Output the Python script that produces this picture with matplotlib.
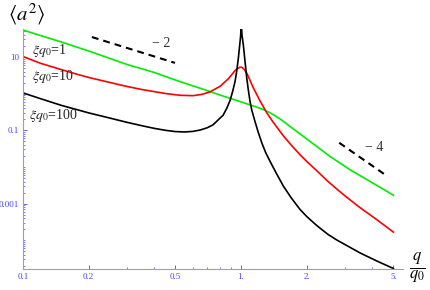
import matplotlib
matplotlib.use("Agg")
import matplotlib.pyplot as plt
from matplotlib.ticker import FixedLocator, NullFormatter

# --- data (q/q0, <a^2>) ---
# xi q0 = 1
q_green = [0.1, 0.15, 0.2, 0.3, 0.4, 0.525, 0.6, 0.7, 0.8, 0.9, 1.0, 1.0997, 1.2, 1.29, 1.358, 1.5,
           1.679, 2.073, 2.559, 3.16, 3.9, 5.0]
a2_green = [54.3, 25.6, 14.6, 6.25, 3.78, 2.13, 1.64, 1.21, 0.92, 0.733, 0.597, 0.494, 0.415, 0.35,
            0.30, 0.211, 0.127, 0.0496, 0.0194, 0.0084, 0.00405, 0.0017]

# xi q0 = 10
q_red = [0.1, 0.12, 0.15, 0.173, 0.2, 0.25, 0.3, 0.35, 0.4, 0.45, 0.525, 0.602, 0.66, 0.721, 0.801,
         0.872, 0.91, 0.9386, 0.965, 0.989, 1.007, 1.03, 1.062, 1.09, 1.12, 1.139, 1.222, 1.312, 1.4,
         1.563, 1.7, 1.865, 2.0, 2.223, 2.5, 2.748, 3.0, 3.515, 4.2, 5.0]
a2_red = [10.3, 6.76, 4.52, 3.51, 2.77, 2.02, 1.57, 1.30, 1.135, 1.01, 0.902, 0.881, 0.955, 1.12, 1.585,
          2.51, 3.39, 4.27, 4.90, 5.25, 5.25, 4.73, 3.63, 2.60, 1.79, 1.43, 0.635, 0.30, 0.17,
          0.0708, 0.0394, 0.0215, 0.01425, 0.00794, 0.00407, 0.00251, 0.00162, 7.76e-4, 3.63e-4,
          1.67e-4]

# xi q0 = 100
q_black = [0.1, 0.12, 0.15, 0.2, 0.25, 0.3, 0.35, 0.4, 0.45, 0.5, 0.55, 0.6, 0.65, 0.7, 0.744, 0.8,
           0.827, 0.86, 0.89, 0.915, 0.9386, 0.955, 0.972, 0.985, 0.995, 1.003, 1.01, 1.0246, 1.04,
           1.062, 1.08, 1.0997, 1.12, 1.159, 1.2, 1.25, 1.3, 1.358, 1.45, 1.563, 1.7, 1.865, 2.0,
           2.223, 2.5, 2.748, 3.0, 3.515, 4.2, 5.0]
a2_black = [1.05, 0.733, 0.479, 0.299, 0.216, 0.165, 0.134, 0.113, 0.1, 0.0923, 0.0902, 0.0933, 0.102,
            0.1175, 0.141, 0.214, 0.257, 0.398, 0.646, 1.15, 2.14, 4.07, 9.33, 20.0, 36.3, 75.0, 39.8,
            21.2, 8.83, 2.69, 1.26, 0.608, 0.355, 0.173, 0.0871, 0.0427, 0.024, 0.0143, 0.00681,
            0.00302, 0.00143, 6.92e-4, 4.47e-4, 2.54e-4, 1.46e-4, 1.02e-4, 7.64e-5, 4.52e-5, 2.72e-5,
            1.7e-5]

labels = [r"$\xi q_0$=1", r"$\xi q_0$=10", r"$\xi q_0$=100"]
label_q = [0.11, 0.11, 0.106]
label_a2 = [14.6, 2.85, 0.26]

# slope guides
slope2_q = [0.207, 0.498]
slope2_a2 = [35.0, 6.9]
slope4_q = [2.82, 4.72]
slope4_a2 = [0.0457, 0.00543]
slope_text = ["\u2212 2", "\u2212 4"]
slope_text_q = [0.43, 4.07]
slope_text_a2 = [24.0, 0.0334]

x_major = [0.1, 0.2, 0.5, 1.0, 2.0, 5.0]
x_major_labels = ["0.1", "0.2", "0.5", "1.", "2.", "5."]
x_minor = [0.3, 0.4, 0.6, 0.7, 0.8, 0.9, 3.0, 4.0]
y_major = [10.0, 0.1, 0.001]
y_major_labels = ["10", "0.1", "0.001"]

plt.rcParams['font.family'] = ['Liberation Serif', 'DejaVu Serif']
plt.rcParams['mathtext.fontset'] = 'stix'

tick_blue = '#4646ff'
axis_gray = '#a0a0a0'

fig = plt.figure(figsize=(4.3, 2.9), dpi=100)
ax = fig.add_axes([23 / 430, 21 / 290, 380 / 430, 240 / 290])

ax.plot(q_green, a2_green, color='#00ee00', lw=1.2)
ax.plot(q_red, a2_red, color='#ff0000', lw=1.2)
ax.plot(q_black, a2_black, color='black', lw=1.2)

ax.plot(slope2_q, slope2_a2, color='black', lw=1.5, dashes=(3.3, 2.4))
ax.plot(slope4_q, slope4_a2, color='black', lw=1.5, dashes=(3.3, 2.4))

for txt, xq, ya in zip(labels, label_q, label_a2):
    ax.text(xq, ya, txt, fontsize=10, ha='left', va='center', color='#222222')
for txt, xq, ya in zip(slope_text, slope_text_q, slope_text_a2):
    ax.text(xq, ya, txt, fontsize=10, ha='center', va='center', color='#333333')

ax.set_xscale('log')
ax.set_yscale('log')
ax.set_xlim(0.1, 5.53)
ax.set_ylim(1.65e-5, 58)

# axes look like Mathematica: only left/bottom, grey lines, blue ticks
for side in ['top', 'right']:
    ax.spines[side].set_visible(False)
for side in ['left', 'bottom']:
    ax.spines[side].set_color(axis_gray)
    ax.spines[side].set_linewidth(0.8)

ax.xaxis.set_major_locator(FixedLocator(x_major))
ax.set_xticklabels(x_major_labels)
ax.xaxis.set_minor_locator(FixedLocator(x_minor))
ax.xaxis.set_minor_formatter(NullFormatter())

y_minor = [m * 10.0 ** k for k in range(-5, 2) for m in range(1, 10)]
y_minor = [v for v in y_minor if v not in y_major]
ax.yaxis.set_major_locator(FixedLocator(y_major))
ax.set_yticklabels(y_major_labels)
ax.yaxis.set_minor_locator(FixedLocator(y_minor))
ax.yaxis.set_minor_formatter(NullFormatter())

ax.tick_params(which='major', direction='in', length=3, width=0.6, color=tick_blue,
               labelcolor=tick_blue, labelsize=6.5, pad=3)
ax.tick_params(which='minor', direction='in', length=1.5, width=0.5, color=tick_blue)

# axis labels
fig.text(27 / 430, 1 - 14 / 290, r"$\langle a^2\rangle$", fontsize=15, ha='center', va='center')
fig.text(417 / 430, 1 - 268 / 290, r"$\frac{q}{q_0}$", fontsize=17, ha='center', va='center')

fig.savefig("out.png", dpi=100)
